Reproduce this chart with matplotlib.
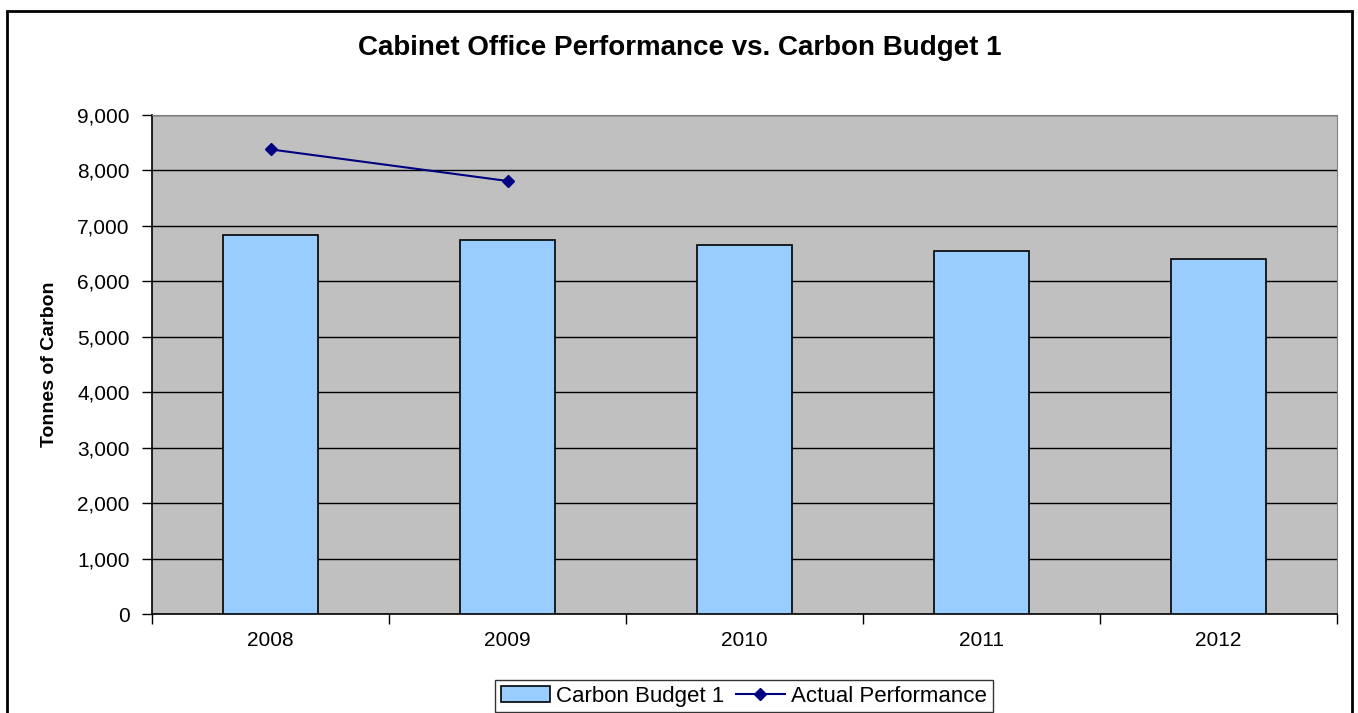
import matplotlib
matplotlib.use("Agg")
import matplotlib.pyplot as plt
from matplotlib.patches import Rectangle
from matplotlib.ticker import FuncFormatter, FixedLocator
import numpy as np

plt.rcParams['font.family'] = ['Liberation Sans', 'DejaVu Sans']

years = ["2008", "2009", "2010", "2011", "2012"]
budget = [6840, 6750, 6660, 6550, 6410]
actual = [8380, 7810]

W, H = 1358, 713
fig = plt.figure(figsize=(W/100, H/100), dpi=100)

# outer chart border
fig.patches.append(Rectangle((7/W, -0.05), (1352-7)/W, 1.05 - 11/H,
                             transform=fig.transFigure, fill=False,
                             edgecolor='black', linewidth=2, clip_on=False))

left, right, top, bottom = 152, 1337, 115, 614
ax = fig.add_axes([left/W, 1-bottom/H, (right-left)/W, (bottom-top)/H])
ax.set_facecolor('#C0C0C0')

x = np.arange(len(years))
bars = ax.bar(x, budget, width=0.405, color='#99CCFF', edgecolor='black', linewidth=1.2,
              label='Carbon Budget 1', zorder=3)
line, = ax.plot(x[:len(actual)], actual, color='#000080', marker='D', markersize=6,
                linewidth=1.5, label='Actual Performance', zorder=4)

ax.set_xlim(-0.5, len(years) - 0.5)
ax.set_ylim(0, 9000)
ax.set_yticks(np.arange(0, 9001, 1000))
ax.yaxis.set_major_formatter(FuncFormatter(lambda v, p: f"{int(v):,}"))
ax.grid(axis='y', color='black', linewidth=1, zorder=1)
ax.set_axisbelow(True)

ax.set_xticks(x)
ax.set_xticklabels(years)
ax.xaxis.set_minor_locator(FixedLocator(np.arange(-0.5, len(years), 1.0)))
ax.tick_params(axis='x', which='major', length=0, pad=12, labelsize=15)
ax.tick_params(axis='x', which='minor', length=7, width=1, direction='out')
ax.tick_params(axis='y', length=7, width=1, direction='out', labelsize=15, pad=9)

for s in ['top', 'right']:
    ax.spines[s].set_color('#808080')
for s in ['left', 'bottom']:
    ax.spines[s].set_color('black')
    ax.spines[s].set_linewidth(1.2)

ax.set_ylabel('Tonnes of Carbon', fontsize=14, fontweight='bold', labelpad=14)

fig.text(680/W, 1-48/H, 'Cabinet Office Performance vs. Carbon Budget 1',
         ha='center', va='center', fontsize=20, fontweight='bold')

leg = fig.legend([bars, line], ['Carbon Budget 1', 'Actual Performance'],
                 loc='upper center', bbox_to_anchor=(744/W, 1-680/H),
                 borderaxespad=0, ncol=2, fontsize=16, frameon=True, fancybox=False,
                 edgecolor='black', borderpad=0.25, columnspacing=0.5,
                 handlelength=2.2, handletextpad=0.3)
leg.get_frame().set_linewidth(1)

fig.savefig('out.png', dpi=100)
